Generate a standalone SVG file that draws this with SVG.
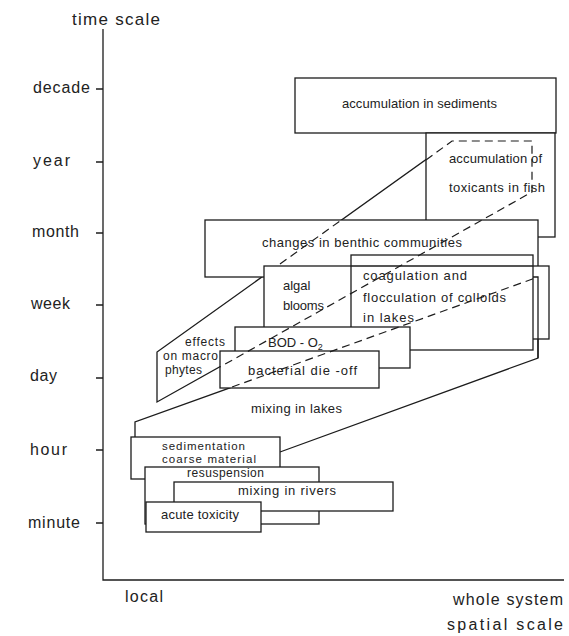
<svg xmlns="http://www.w3.org/2000/svg" width="569" height="636" viewBox="0 0 569 636">
<style>
.ln{fill:none;stroke:#1c1c1c;stroke-width:1.3}
.bx{fill:#fff;stroke:#1c1c1c;stroke-width:1.3}
.hid{fill:none;stroke:#1c1c1c;stroke-width:1.2;stroke-dasharray:8 5}
.t{font-family:"Liberation Sans",Arial,sans-serif;font-size:13px;fill:#222}
.s{font-size:12px}
.xs{font-size:11.5px}
.ax{font-family:"Liberation Sans",Arial,sans-serif;font-size:16px;fill:#222}
</style>
<rect width="569" height="636" fill="#fff"/>
<g id="axes">
<path class="ln" d="M103,29 V580 H564"/>
<path class="ln" d="M96,89 H103 M96,162 H103 M96,233 H103 M96,305 H103 M96,378 H103 M96,450 H103 M96,523 H103"/>
<text class="ax" x="72" y="25" style="font-size:17px" textLength="88" lengthAdjust="spacing">time scale</text>
<text class="ax" x="33" y="93" textLength="57" lengthAdjust="spacing">decade</text>
<text class="ax" x="33" y="166" textLength="37" lengthAdjust="spacing">year</text>
<text class="ax" x="32" y="237" textLength="47" lengthAdjust="spacing">month</text>
<text class="ax" x="31" y="309" textLength="39" lengthAdjust="spacing">week</text>
<text class="ax" x="30" y="381" textLength="27" lengthAdjust="spacing">day</text>
<text class="ax" x="30" y="455" textLength="37" lengthAdjust="spacing">hour</text>
<text class="ax" x="28" y="528" textLength="52" lengthAdjust="spacing">minute</text>
<text class="ax" x="125" y="602" textLength="38" lengthAdjust="spacing">local</text>
<text class="ax" x="453" y="605" textLength="110" lengthAdjust="spacing">whole system</text>
<text class="ax" x="447" y="630" textLength="116" lengthAdjust="spacing">spatial  scale</text>
</g>
<g id="effects-on-macrophytes">
<path class="ln" d="M157,402 V352 L452,141 H532 V192 Z"/>
<text class="t s" x="185" y="346" textLength="40" lengthAdjust="spacing">effects</text>
<text class="t s" x="163" y="360" textLength="55" lengthAdjust="spacing">on macro</text>
<text class="t s" x="165" y="374" textLength="37" lengthAdjust="spacing">phytes</text>
</g>
<g id="mixing-in-lakes">
<path class="ln" d="M135,437 V422 L538,277 V358 L280,452"/>
<text class="t" x="251" y="413" textLength="91" lengthAdjust="spacing">mixing in lakes</text>
</g>
<g id="accumulation-in-sediments">
<rect class="bx" x="295" y="78" width="261" height="55"/>
<text class="t" x="342" y="108" textLength="155" lengthAdjust="spacing">accumulation in sediments</text>
</g>
<g id="accumulation-of-toxicants-in-fish">
<rect class="bx" x="426" y="133" width="129" height="104"/>
<text class="t" x="449" y="163" textLength="93" lengthAdjust="spacing">accumulation of</text>
<text class="t" x="449" y="192" textLength="96" lengthAdjust="spacing">toxicants in fish</text>
</g>
<g id="changes-in-benthic-communities">
<rect class="bx" x="205" y="220" width="333" height="57"/>
<text class="t" x="262" y="247" textLength="200" lengthAdjust="spacing">changes in benthic  communities</text>
</g>
<g id="algal-blooms">
<rect class="bx" x="264" y="266" width="285" height="73"/>
<text class="t" x="283" y="290">algal</text>
<text class="t" x="283" y="310" textLength="41" lengthAdjust="spacing">blooms</text>
</g>
<g id="coagulation-and-flocculation">
<rect class="bx" x="351" y="255" width="182" height="95"/>
<path class="ln" d="M351,266 H533"/>
<text class="t" x="363" y="280" textLength="104" lengthAdjust="spacing">coagulation  and</text>
<text class="t" x="363" y="302" textLength="143" lengthAdjust="spacing">flocculation of colloids</text>
<text class="t" x="363" y="322" textLength="51" lengthAdjust="spacing">in lakes</text>
</g>
<g id="mixing-in-lakes-right-edge">
<path class="ln" d="M533,277 H538 V358"/>
</g>
<g id="bod-o2">
<rect class="bx" x="235" y="327" width="175" height="41"/>
<text class="t" x="268" y="347">BOD - O<tspan dy="3" style="font-size:9px">2</tspan></text>
</g>
<g id="bacterial-die-off">
<rect class="bx" x="220" y="351" width="159" height="37"/>
<text class="t" x="248" y="375" textLength="109" lengthAdjust="spacing">bacterial die -off</text>
</g>
<g id="sedimentation-coarse-material">
<rect class="bx" x="131" y="437" width="149" height="42"/>
<text class="t xs" x="162" y="450" textLength="83" lengthAdjust="spacing">sedimentation</text>
<text class="t xs" x="162" y="463" textLength="94" lengthAdjust="spacing">coarse material</text>
</g>
<g id="resuspension">
<rect class="bx" x="145" y="467" width="174" height="57"/>
<text class="t s" x="187" y="477" textLength="77" lengthAdjust="spacing">resuspension</text>
</g>
<g id="mixing-in-rivers">
<rect class="bx" x="174" y="482" width="219" height="29"/>
<text class="t" x="238" y="495" textLength="98" lengthAdjust="spacing">mixing in rivers</text>
</g>
<g id="acute-toxicity">
<rect class="bx" x="146" y="502" width="115" height="30"/>
<text class="t" x="161" y="519" textLength="78" lengthAdjust="spacing">acute toxicity</text>
</g>
<g id="hidden-edges">
<path class="hid" d="M280,264 L340,221"/>
<path class="hid" d="M426,160 L452,141 H532 V192 L220,367"/>
<path class="hid" d="M232,387 L538,277"/>
</g>
</svg>
